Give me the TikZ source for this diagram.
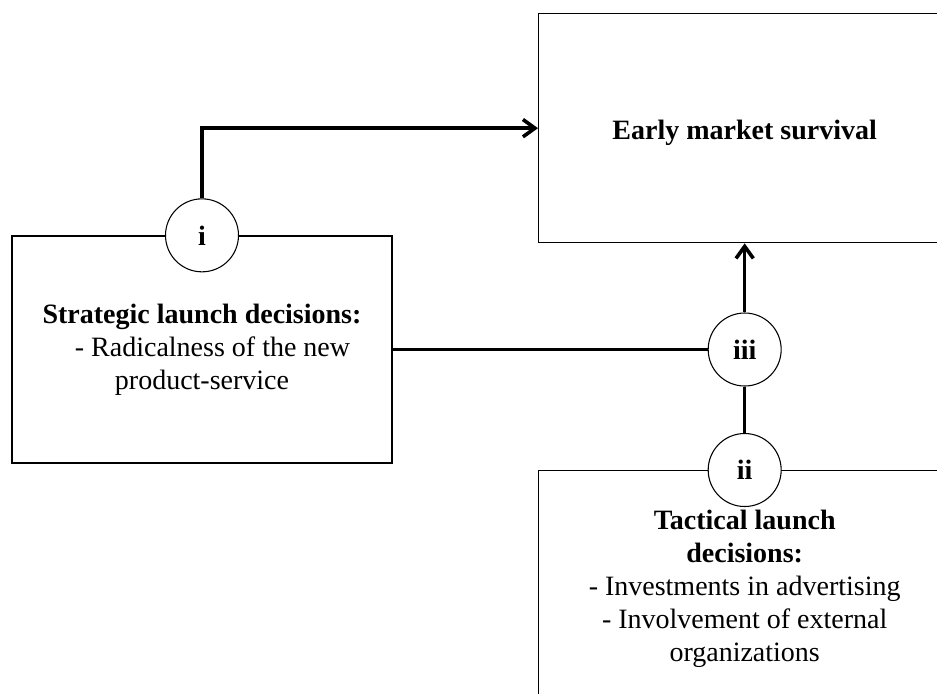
\documentclass[tikz,border=0pt]{standalone}
\usepackage{fontspec}
\setmainfont{Liberation Serif}
\usetikzlibrary{arrows.meta, positioning}
\tikzset{
  box/.style={
    rectangle, draw=black, line width=1pt, align=center,
    inner sep=0pt, font=\fontsize{21}{24.75}\selectfont
  },
  num/.style={
    circle, draw=black, line width=0.8pt, fill=white,
    minimum size=54.75pt, inner sep=0pt,
    font=\fontsize{21}{24.75}\selectfont\bfseries
  },
  arr/.style={-{Straight Barb[length=9pt, width=13pt]}, line width=2.7pt},
  link/.style={line width=2.7pt}
}

\begin{document}
\begin{tikzpicture}[x=0.75pt, y=-0.75pt]
\useasboundingbox (0,0) rectangle (937,693);

% ---------------- Boxes ----------------
\node[box, minimum width=285pt, minimum height=170.25pt] (strategic) at (202,349.5)
  {\textbf{Strategic launch decisions:}\\\hspace*{0.75em}- Radicalness of the new\\product-service};
\node[box, anchor=north west, minimum width=309pt, minimum height=171.75pt] (survival) at (538,13)
  {\raisebox{-3.5pt}[\height][\depth]{\textbf{Early market survival}}};
\node[box, anchor=north west, minimum width=309pt, minimum height=177pt] (tactical) at (538,470)
  {\textbf{Tactical launch}\\\textbf{decisions:}\\- Investments in advertising\\- Involvement of external\\organizations};

% ---------------- Effect circles ----------------
\node[num] (ci) at (strategic.north) {i};
\node[num] (cii) at (tactical.north) {ii};
\node[num] (ciii) at (cii |- strategic.east) {iii};

% ---------------- Connectors ----------------
\draw[arr] (ci.north) |- (survival.west);
\draw[link] (strategic.east) -- (ciii.west);
\draw[link] (cii.north) -- (ciii.south);
\draw[arr] (ciii.north) -- (ciii.north |- survival.south);

\end{tikzpicture}
\end{document}
